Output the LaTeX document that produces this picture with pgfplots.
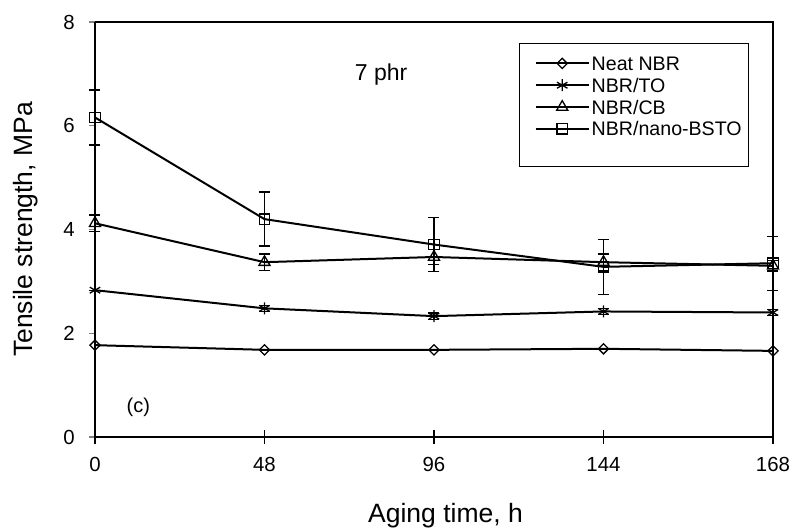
\documentclass[border=0pt]{standalone}
\usepackage{fontspec}
\setmainfont{Liberation Sans}
\usepackage{pgfplots}
\pgfplotsset{compat=1.18}

% aging time (category 0..4), mean and error
\pgfplotstableread{
x  neat  to    toe   cb    cbe   bsto  bstoe
0  1.77  2.83  0.00  4.12  0.16  6.16  0.53
1  1.68  2.48  0.06  3.37  0.16  4.20  0.52
2  1.68  2.33  0.06  3.47  0.15  3.71  0.52
3  1.70  2.42  0.06  3.37  0.16  3.28  0.53
4  1.66  2.40  0.06  3.30  0.10  3.35  0.52
}\tsdata

\begin{document}
\begin{tikzpicture}
\useasboundingbox (-47.5pt,-45.5pt) rectangle (349.5pt,218.5pt);
\begin{axis}[
  scale only axis, width=339pt, height=207.5pt,
  xmin=0, xmax=4, ymin=0, ymax=8,
  xtick={0,1,2,3,4}, xticklabels={0,48,96,144,168},
  ytick={0,2,4,6,8},
  axis x line*=bottom, axis y line*=left,
  axis line style={line width=1pt, -},
  separate axis lines,
  x axis line style={-}, y axis line style={-},
  tick align=outside, major tick length=3.2pt,
  xtick style={draw=none},
  ytick style={line width=0.6pt},
  /pgf/number format/assume math mode=true,
  tick label style={font=\fontsize{10.2}{12}\selectfont},
  xticklabel style={inner sep=0pt, yshift=-6.7pt},
  yticklabel style={inner sep=0pt, xshift=-6.7pt},
  xlabel={Aging time, h}, ylabel={Tensile strength, MPa},
  label style={font=\fontsize{13.25}{15}\selectfont},
  xlabel style={at={(axis description cs:0.517,-0.207)}, anchor=base},
  ylabel style={at={(axis description cs:-0.0915,0.5)}, anchor=base, rotate=0},
  clip=false,
  legend style={at={(axis description cs:0.648,0.918)}, anchor=north west,
    draw=none, fill=none, font=\fontsize{9.8}{11}\selectfont,
    row sep=3.9pt, column sep=1pt, inner sep=0pt,
    nodes={inner sep=0pt, text height=7pt, text depth=0pt}},
  legend cell align=left,
  legend image code/.code={
    \draw[mark repeat=2,mark phase=2] plot coordinates {(0pt,0pt) (13.25pt,0pt) (26.5pt,0pt)};},
  every axis plot/.append style={line width=1pt, black},
]
\addplot[mark=square, mark size=1.8pt, mark options={rotate=45, fill=white, line width=0.65pt}]
  table[x=x, y=neat] {\tsdata};
\addlegendentry{Neat NBR}
\addplot[mark=asterisk, mark size=3pt, mark options={line width=0.65pt},
  error bars/.cd, y dir=both, y explicit,
  error bar style={line width=0.65pt},
  error mark options={rotate=90, mark size=2.75pt, line width=0.65pt}]
  table[x=x, y=to, y error=toe] {\tsdata};
\addlegendentry{NBR/TO}
\addplot[mark=triangle, mark size=3.2pt, mark options={fill=white, line width=0.65pt},
  error bars/.cd, y dir=both, y explicit,
  error bar style={line width=0.65pt},
  error mark options={rotate=90, mark size=2.75pt, line width=0.65pt}]
  table[x=x, y=cb, y error=cbe] {\tsdata};
\addlegendentry{NBR/CB}
\addplot[mark=square, mark size=2.6pt, mark options={fill=white, line width=0.65pt},
  error bars/.cd, y dir=both, y explicit,
  error bar style={line width=0.65pt},
  error mark options={rotate=90, mark size=2.75pt, line width=0.65pt}]
  table[x=x, y=bsto, y error=bstoe] {\tsdata};
\addlegendentry{NBR/nano-BSTO}

\draw[line width=0.7pt] (rel axis cs:0,1) -- (rel axis cs:1,1) -- (rel axis cs:1,0);
\draw[line width=0.6pt] (axis cs:0,0) -- ++(0pt,-3.3pt)
  (axis cs:1,0) ++(0pt,3.3pt) -- ++(0pt,-6.6pt)
  (axis cs:2,0) ++(0pt,3.3pt) -- ++(0pt,-6.6pt)
  (axis cs:3,0) ++(0pt,3.3pt) -- ++(0pt,-6.6pt)
  (axis cs:4,0) ++(0pt,3.3pt) -- ++(0pt,-6.6pt);
\draw[line width=0.5pt] (axis description cs:0.6254,0.947) rectangle (axis description cs:0.9646,0.653);
\node[anchor=base, font=\fontsize{11.5}{13}\selectfont] at (axis cs:1.688,6.865) {7 phr};
\node[anchor=base, font=\fontsize{10}{12}\selectfont] at (axis cs:0.256,0.47) {(c)};
\end{axis}
\end{tikzpicture}
\end{document}
